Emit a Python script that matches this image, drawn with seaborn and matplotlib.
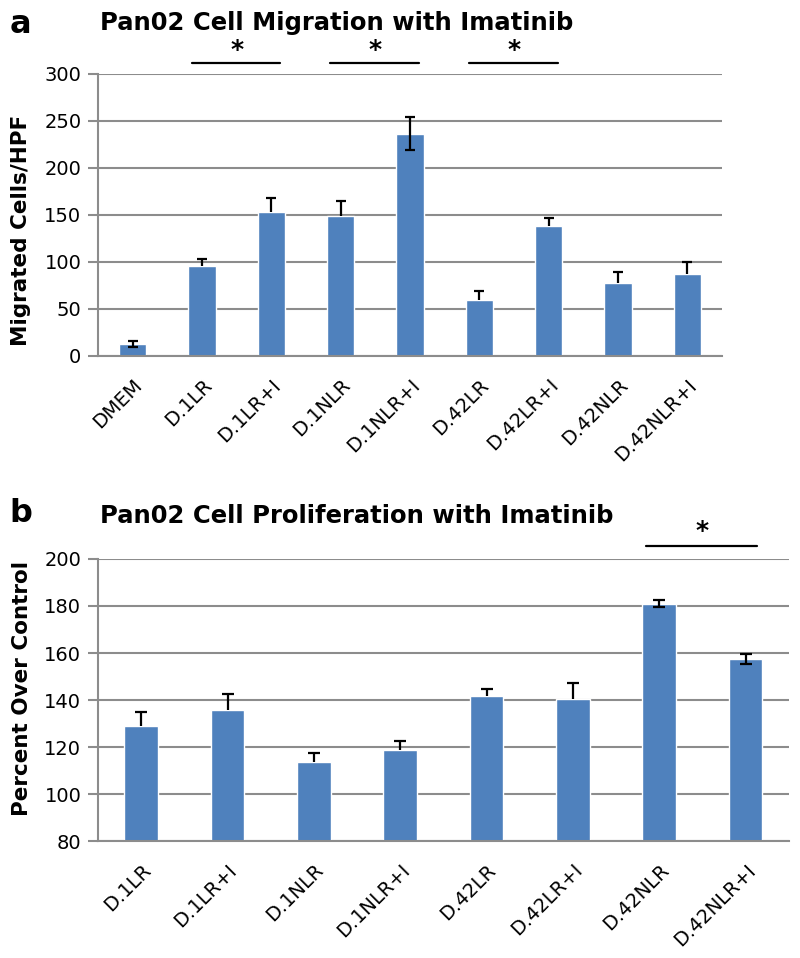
import numpy as np
import matplotlib
matplotlib.use("Agg")
import matplotlib.pyplot as plt
import seaborn as sns

sns.set_style("white")
plt.rcParams['font.family'] = ['DejaVu Sans']
plt.rcParams['text.color'] = 'black'
plt.rcParams['axes.labelcolor'] = 'black'

# panel a - migration
mig_cats = ["DMEM", "D.1LR", "D.1LR+I", "D.1NLR", "D.1NLR+I",
            "D.42LR", "D.42LR+I", "D.42NLR", "D.42NLR+I"]
mig_vals = [13, 96, 153, 149, 236, 60, 138, 78, 87]
mig_err_up = [3, 7, 15, 16, 18, 9, 9, 11, 13]
mig_err_low = [3, 0, 0, 0, 17, 0, 0, 0, 0]
mig_sig = [(1, 2), (3, 4), (5, 6)]

# panel b - proliferation
pro_cats = ["D.1LR", "D.1LR+I", "D.1NLR", "D.1NLR+I",
            "D.42LR", "D.42LR+I", "D.42NLR", "D.42NLR+I"]
pro_vals = [129, 135.7, 113.6, 118.6, 141.7, 140.3, 181, 157.4]
pro_err_up = [6, 6.7, 3.7, 3.8, 2.9, 7, 1.6, 2.2]
pro_err_low = [0, 0, 0, 0, 0, 0, 1.6, 2.2]
pro_sig = [(6, 7)]

blue = "#4F81BD"
grey = "#8C8C8C"

fig = plt.figure(figsize=(8, 9.58), dpi=100)
ax1 = fig.add_axes([0.1225, 0.6284, 0.78, 0.2944])
ax2 = fig.add_axes([0.1225, 0.1221, 0.8635, 0.2944])


def draw(ax, cats, vals, up, low, ylim, step, ylabel, lab_xy, capsize, sig, sig_y, star_y):
    sns.barplot(x=cats, y=vals, color=blue, saturation=1, width=0.39,
                errorbar=None, ax=ax, zorder=2)
    x = np.arange(len(cats))
    vals = np.array(vals)
    up = np.array(up)
    low = np.array(low)
    both = low > 0
    # bars with error in both directions
    if both.any():
        ax.errorbar(x[both], vals[both], yerr=[low[both], up[both]], fmt="none",
                    ecolor="black", elinewidth=1.6, capsize=capsize, capthick=1.6, zorder=3)
    # upper-only error bars
    one = ~both
    _, caps, _ = ax.errorbar(x[one], vals[one], yerr=[np.zeros(one.sum()), up[one]],
                             fmt="none", ecolor="black", elinewidth=1.6,
                             capsize=capsize, capthick=1.6, zorder=3)
    caps[0].set_visible(False)
    ax.set_ylim(*ylim)
    ax.set_xlim(-0.5, len(cats) - 0.5)
    ax.set_yticks(np.arange(ylim[0], ylim[1] + 1, step))
    ax.yaxis.grid(True, color=grey, lw=1.5)
    ax.set_axisbelow(True)
    for s in ["top", "right"]:
        ax.spines[s].set_visible(False)
    for s in ["left", "bottom"]:
        ax.spines[s].set_color(grey)
        ax.spines[s].set_linewidth(1.5)
    ax.set_xticks(x)
    ax.set_xticklabels(cats, rotation=45, ha="right", rotation_mode="anchor")
    ax.set_xticks(np.arange(-0.5, len(cats)), minor=True)
    ax.tick_params(axis="x", which="major", length=0, labelsize=14, pad=14,
                   labelcolor="black")
    ax.tick_params(axis="x", which="minor", length=7, width=1.5, color=grey, direction="out")
    ax.tick_params(axis="y", length=7, width=1.5, color=grey, direction="out",
                   labelsize=14, pad=5, left=True, labelcolor="black")
    ax.set_ylabel(ylabel, fontsize=15.5, fontweight="bold")
    ax.yaxis.set_label_coords(*lab_xy)
    ax.set_xlabel("")
    for a, b in sig:
        ax.plot([a - 0.15, b + 0.13], [sig_y, sig_y], color="black", lw=1.6, clip_on=False)
        ax.text((a + b) / 2, star_y, "*", ha="center", va="center",
                fontsize=18, fontweight="bold")


draw(ax1, mig_cats, mig_vals, mig_err_up, mig_err_low, (0, 300), 50,
     "Migrated Cells/HPF", (-0.108, 0.445), 3.5, mig_sig, 312, 325)
draw(ax2, pro_cats, pro_vals, pro_err_up, pro_err_low, (80, 200), 20,
     "Percent Over Control", (-0.095, 0.54), 4.5, pro_sig, 205.5, 212)

fig.text(0.012, 0.966, "a", fontsize=23, fontweight="bold", va="baseline")
fig.text(0.125, 0.969, "Pan02 Cell Migration with Imatinib", fontsize=17.5,
         fontweight="bold", va="baseline")
fig.text(0.012, 0.455, "b", fontsize=23, fontweight="bold", va="baseline")
fig.text(0.125, 0.454, "Pan02 Cell Proliferation with Imatinib", fontsize=17.5,
         fontweight="bold", va="baseline")

fig.savefig("out.png", dpi=100)
